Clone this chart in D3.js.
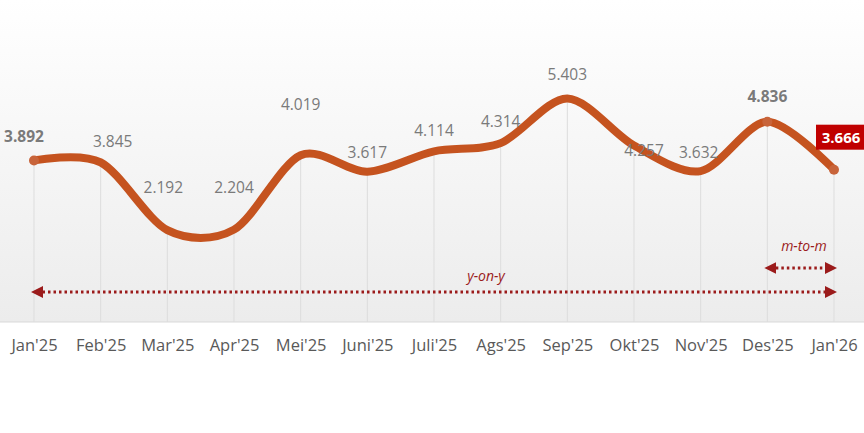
<!DOCTYPE html>
<html><head><meta charset="utf-8">
<script src="https://cdn.jsdelivr.net/npm/d3@7"></script>
<style>body{margin:0;background:#fff}svg{display:block}</style>
</head><body><svg id="c" width="864" height="433"></svg>
<script>
var months = ["Jan'25", "Feb'25", "Mar'25", "Apr'25", "Mei'25", "Juni'25", "Juli'25", "Ags'25", "Sep'25", "Okt'25", "Nov'25", "Des'25", "Jan'26"]
var values = [3.892, 3.845, 2.192, 2.204, 4.019, 3.617, 4.114, 4.314, 5.403, 4.257, 3.632, 4.836, 3.666]
var labelDx = [-10, 12, -4, 0, 0, 0, 0, 0, 0, 10, -2, 0, 0]
var labelDy = [-18, -15, -37, -37, -45, -14, -15, -16, -18, 11, -13, -20, 0]

var svg = d3.select('#c')
var x = d3.scalePoint().domain(months).range([34, 834])
var y = d3.scaleLinear().domain([0, 5.4]).range([320, 98.6])

var defs = svg.append('defs')
var g = defs.append('linearGradient').attr('id', 'bg').attr('x1', 0).attr('y1', 0).attr('x2', 0).attr('y2', 1)
g.append('stop').attr('offset', '0').attr('stop-color', '#ffffff')
g.append('stop').attr('offset', '1').attr('stop-color', '#ececec')
svg.append('rect').attr('x', 0).attr('y', 0).attr('width', 864).attr('height', 322).attr('fill', 'url(#bg)')
svg.append('line').attr('x1', 0).attr('x2', 864).attr('y1', 322).attr('y2', 322).attr('stroke', '#d9d9d9')

svg.selectAll('.grid').data(months).enter().append('line')
  .attr('x1', function (d) { return x(d) }).attr('x2', function (d) { return x(d) })
  .attr('y1', function (d, i) { return y(values[i]) }).attr('y2', 322)
  .attr('stroke', '#dddddd')

defs.append('marker').attr('id', 'ah').attr('viewBox', '0 0 10 10').attr('refX', 5).attr('refY', 5)
  .attr('markerWidth', 4).attr('markerHeight', 4).attr('orient', 'auto-start-reverse')
  .append('path').attr('d', 'M0,0L10,5L0,10z').attr('fill', '#9b1b1b')
function arrow (a, b, yy) {
  svg.append('line').attr('x1', x(a) + 3).attr('x2', x(b) - 3).attr('y1', yy).attr('y2', yy)
    .attr('stroke', '#9b1b1b').attr('stroke-width', 3).attr('stroke-dasharray', '2.5,3')
    .attr('marker-start', 'url(#ah)').attr('marker-end', 'url(#ah)')
}
arrow("Jan'25", "Jan'26", 292)
arrow("Des'25", "Jan'26", 268)
svg.append('text').attr('x', 486).attr('y', 281).attr('text-anchor', 'middle').attr('fill', '#9b1b1b')
  .attr('font-family', 'Open Sans').attr('font-style', 'italic').attr('font-size', 14).text('y-on-y')
svg.append('text').attr('x', 804).attr('y', 251).attr('text-anchor', 'middle').attr('fill', '#9b1b1b')
  .attr('font-family', 'Open Sans').attr('font-style', 'italic').attr('font-size', 14).text('m-to-m')

var line = d3.line().x(function (d, i) { return x(months[i]) }).y(function (d) { return y(d) }).curve(d3.curveCardinal.tension(0.1))
svg.append('path').datum(values).attr('d', line).attr('fill', 'none')
  .attr('stroke', '#c5531f').attr('stroke-width', 8).attr('stroke-linecap', 'round')

svg.selectAll('.dot').data(values).enter().append('circle')
  .attr('cx', function (d, i) { return x(months[i]) }).attr('cy', function (d) { return y(d) })
  .attr('r', function (d, i) { return (i === 0 || i === 12 || i === 11) ? 5 : 0 })
  .attr('fill', '#c8643a')

svg.selectAll('.lbl').data(values).enter().append('text')
  .attr('x', function (d, i) { return x(months[i]) + labelDx[i] })
  .attr('y', function (d, i) { return y(d) + labelDy[i] })
  .attr('text-anchor', 'middle').attr('font-family', 'Open Sans').attr('font-size', 15.5)
  .attr('font-weight', function (d, i) { return (i === 0 || i === 11) ? 'bold' : 'normal' })
  .attr('fill', '#7a7a7a')
  .text(function (d, i) { return i === 12 ? '' : d.toFixed(3) })

var lx = x("Jan'26") + 4
svg.append('rect').attr('x', lx - 22).attr('y', y(3.666) - 45).attr('width', 50).attr('height', 25).attr('fill', '#c00000')
svg.append('text').attr('x', lx + 3).attr('y', y(3.666) - 27).attr('text-anchor', 'middle').attr('fill', '#fff')
  .attr('font-family', 'Open Sans').attr('font-weight', 'bold').attr('font-size', 15).text('3.666')

svg.append('g').attr('transform', 'translate(0,322)')
  .call(d3.axisBottom(x).tickSize(0).tickPadding(17))
  .call(function (s) { s.select('.domain').remove() })
  .selectAll('text').attr('font-family', 'Open Sans').attr('font-size', 16.5).attr('fill', '#595959')
</script></body></html>
